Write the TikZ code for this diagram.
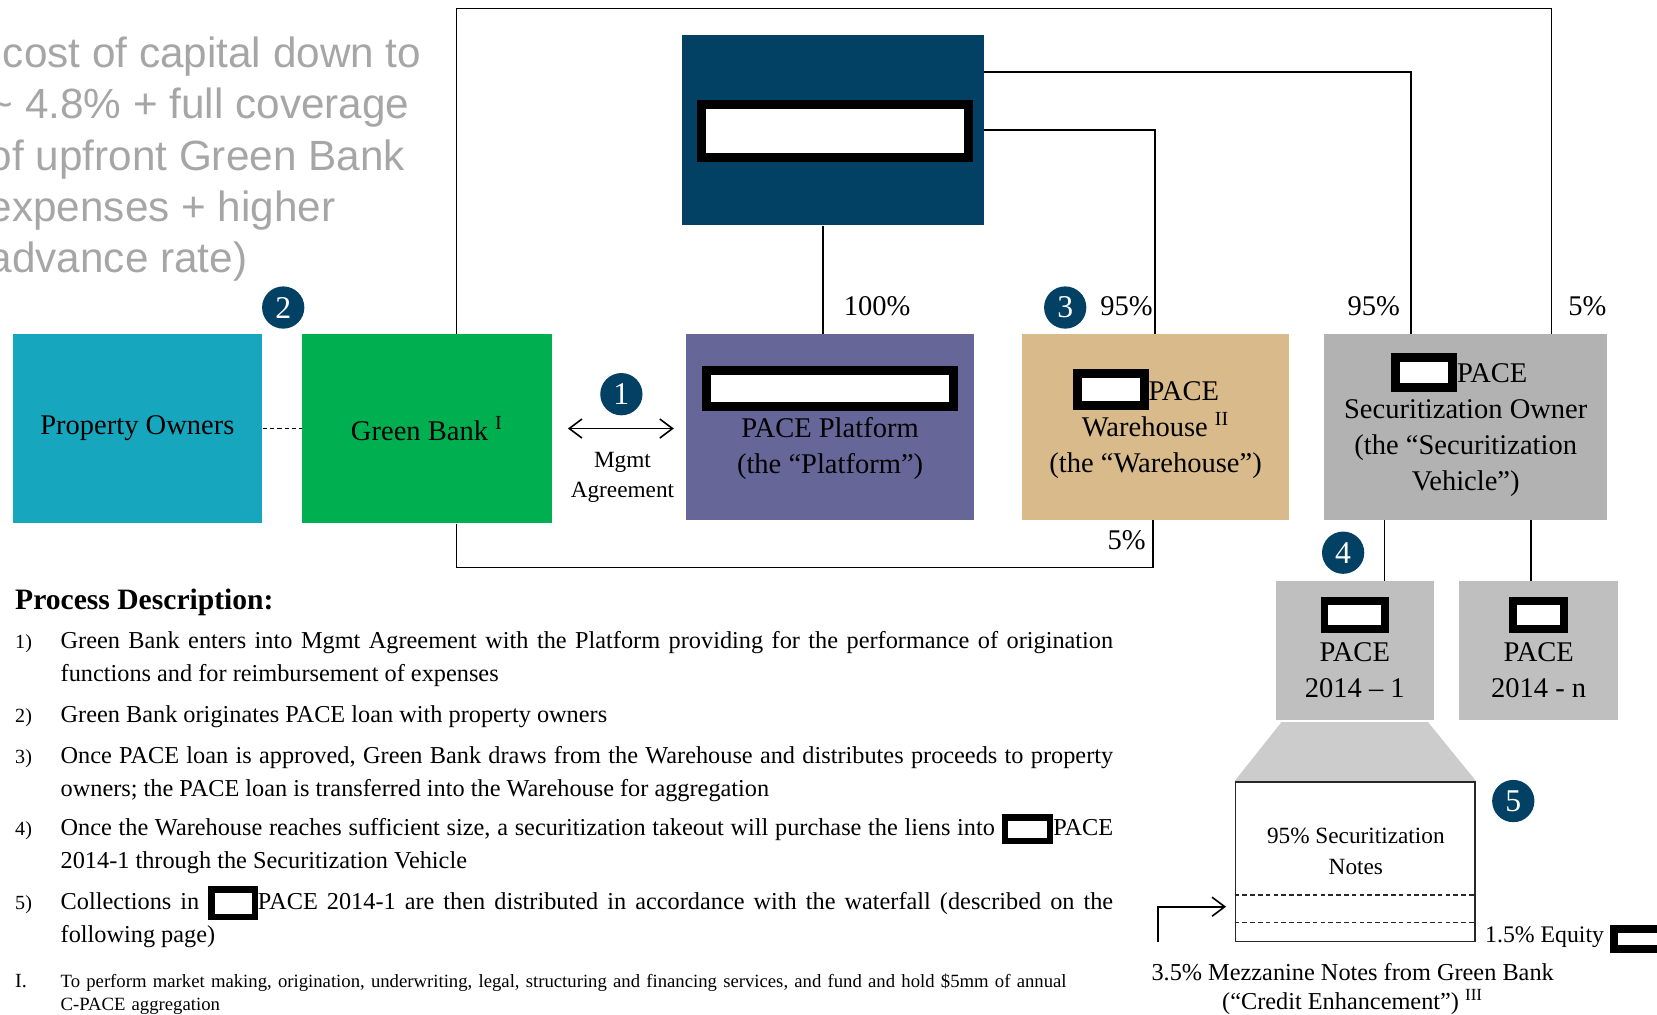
\documentclass[tikz,border=0pt]{standalone}
\usepackage{fontspec}
\setmainfont{Liberation Serif}
\newfontfamily\slidefont{Liberation Sans}
\usetikzlibrary{arrows.meta,backgrounds}

\definecolor{navy}{RGB}{3,65,100}
\definecolor{ownerteal}{RGB}{22,167,191}
\definecolor{bankgreen}{RGB}{0,176,80}
\definecolor{platpurple}{RGB}{102,102,153}
\definecolor{housetan}{RGB}{217,186,138}
\definecolor{vehiclegrey}{RGB}{178,178,178}
\definecolor{dealgrey}{RGB}{191,191,191}
\definecolor{funnelgrey}{RGB}{204,204,204}
\definecolor{slidegrey}{RGB}{166,166,166}
\definecolor{frameline}{RGB}{40,40,40}

% white box with a heavy black frame (redacted names)
\newcommand{\blackout}[3][4.25pt]{{\setlength{\fboxsep}{0pt}\setlength{\fboxrule}{#1}\fcolorbox{black}{white}{\rule{#2}{0pt}\rule{0pt}{#3}}}}

\tikzset{
  entity/.style={rectangle, minimum width=118pt, minimum height=89.5pt, inner sep=0pt,
                 align=center, text=black, font=\fontsize{13.5}{17}\selectfont},
  boxtext/.style={inner sep=0pt, align=center, text=black, font=\fontsize{13.5}{17}\selectfont},
  badge/.style={circle, fill=navy, text=white, inner sep=0pt, minimum size=20pt,
                font=\fontsize{15}{15}\selectfont},
  mask/.style={draw=black, fill=white, line width=4.25pt, inner sep=0pt},
  link/.style={draw=black, line width=0.75pt},
  pct/.style={inner sep=0pt, font=\fontsize{13.5}{17}\selectfont},
  itemno/.style={anchor=mid west, inner sep=0pt, font=\fontsize{9.5}{11}\selectfont},
  itemtext/.style={anchor=mid west, inner sep=0pt, text width=498pt, align=justify,
                   font=\fontsize{11.5}{15.75}\selectfont},
  notedash/.style={frameline, line width=0.7pt, dash pattern=on 2.2pt off 1.5pt}
}

\begin{document}
\begin{tikzpicture}[x=0.5pt,y=-0.5pt]
  \clip (0,0) rectangle (1568,960);

  % slide text running in from the left
  \foreach \t [count=\i] in {{\hphantom{(}cost of capital down to},{\textasciitilde{} 4.8\% + full coverage},
      {of upfront Green Bank},{expenses + higher},{advance rate)}}
    \node[anchor=base west, inner sep=0pt, text=slidegrey, font=\slidefont\fontsize{20}{24}\selectfont]
      (g\i) at (-11,15.5+48.5*\i) {\t};

  \node[entity, fill=navy, minimum width=143pt, minimum height=90pt] (parent) at (788,123) {};
  \node[mask, minimum width=126.25pt, minimum height=24.75pt] (parentmask) at (790.5,124) {};

  \node[entity, fill=ownerteal] (owners) at (130,405.5) {Property Owners};
  \node[entity, fill=bankgreen] (bank) at (404,405.5) {Green Bank \textsuperscript{I}};
  \node[entity, fill=platpurple, minimum width=136.5pt, minimum height=88pt] (platform) at (785.5,404) {};
  \node[boxtext] (platformtxt) at ([yshift=2pt]platform.center)
    {\blackout[4.5pt]{112.5pt}{12.5pt}\\PACE Platform\\(the “Platform”)};
  \node[entity, fill=housetan, minimum width=126.5pt, minimum height=88pt] (warehouse) at (1093.5,404) {};
  \node[boxtext] (warehousetxt) at ([yshift=1.5pt]warehouse.center)
    {\blackout{27.25pt}{10.75pt}PACE\hspace*{9pt}\\Warehouse \textsuperscript{II}\\(the “Warehouse”)};
  \node[entity, fill=vehiclegrey, minimum width=134pt, minimum height=88pt] (vehicle) at (1387,404) {};
  \node[boxtext] (vehicletxt) at ([yshift=1pt]vehicle.center)
    {\blackout{22.5pt}{9.75pt}PACE\hspace*{6pt}\\Securitization Owner\\(the “Securitization\\Vehicle”)};

  \node[entity, fill=dealgrey, minimum width=75pt, minimum height=65.5pt] (deal1) at (1282,615.5) {};
  \node[boxtext] (deal1txt) at ([yshift=1.5pt]deal1.center) {\blackout[3.7pt]{25pt}{9.8pt}\\PACE\\2014 -- 1};
  \node[entity, fill=dealgrey, minimum width=75pt, minimum height=65.5pt] (dealn) at (1456,615.5) {};
  \node[boxtext] (dealntxt) at ([yshift=1.5pt]dealn.center) {\blackout[3.7pt]{20.6pt}{9.8pt}\\PACE\\2014 - n};

  \node[draw=frameline, line width=0.8pt, minimum width=113.5pt, minimum height=75.5pt, inner sep=0pt]
    (notes) at (1282.5,815.5) {};
  \begin{scope}[on background layer]
    \fill[funnelgrey] ([xshift=3pt,yshift=-1pt]deal1.south west) -- ([xshift=-3pt,yshift=-1pt]deal1.south east)
      -- (notes.north east) -- (notes.north west) -- cycle;
  \end{scope}
  \node[align=center, inner sep=0pt, font=\fontsize{11}{14.5}\selectfont] (notestxt) at (1283,805.5)
    {95\% Securitization\\Notes};
  \draw[notedash] (notes.west |- 0,847) -- (notes.east |- 0,847);
  \draw[notedash] (notes.west |- 0,873) -- (notes.east |- 0,873);

  % ownership lines
  \draw[link] (bank.north -| 432,0) |- (1468,8) -- (vehicle.north -| 1468,0);
  \draw[link] (parent.east |- 0,68) -| (vehicle.north -| 1335,0);
  \draw[link] (parent.east |- 0,123) -| (warehouse.north -| 1093,0);
  \draw[link] (parent.south -| 779,0) -- (platform.north -| 779,0);
  \draw[link] (bank.south -| 432,0) |- (1091,537) -- (warehouse.south -| 1091,0);
  \draw[link] (vehicle.south -| 1310,0) -- (deal1.north -| 1310,0);
  \draw[link] (vehicle.south -| 1449,0) -- (dealn.north -| 1449,0);
  \draw[link, dash pattern=on 2pt off 1.5pt] (owners.east) -- (bank.west);
  \draw[link, {Straight Barb[length=6pt,width=9pt]}-{Straight Barb[length=6pt,width=9pt]},
        shorten <=7.5pt, shorten >=5.5pt] (bank.east) -- (bank.east -| platform.west);

  \node[pct] (p100) at (830,290) {100\%};
  \node[pct] (p95w) at (1066,290) {95\%};
  \node[pct] (p95v) at (1300,290) {95\%};
  \node[pct] (p5v) at (1502,290) {5\%};
  \node[pct] (p5w) at (1066,511) {5\%};
  \node[align=center, inner sep=0pt, font=\fontsize{11}{14}\selectfont] (mgmt) at (589,452) {Mgmt\\Agreement};

  \foreach \n/\p in {1/{588,373},2/{268,291},3/{1008,291},4/{1271,523},5/{1432,758}}
    \node[badge] (b\n) at (\p) {\n};

  % credit enhancement and equity
  \coordinate (mezz) at (1096,891);
  \draw[link, -{Straight Barb[length=6pt,width=9pt]}, shorten >=4pt] (mezz) |- (notes.west |- 0,858);
  \node[anchor=base west, inner sep=0pt, font=\fontsize{11.25}{14}\selectfont] (equity) at (1405,892)
    {1.5\% Equity \raisebox{-1pt}{\blackout[4pt]{40pt}{5.5pt}}};
  \node[anchor=north, align=center, inner sep=0pt, font=\fontsize{11.5}{14}\selectfont] (mezztxt) at (1280,911)
    {3.5\% Mezzanine Notes from Green Bank\\(“Credit Enhancement”) \textsuperscript{III}};

  % process description
  \node[anchor=base west, inner sep=0pt, font=\fontsize{14}{14}\selectfont\bfseries] (heading) at (14,577)
    {Process Description:};
  \foreach \n/\y in {1/609,2/679,3/718,4/786,5/856}
    \node[itemno] (n\n) at (14,\y) {\n)};
  \node[itemtext] (item1) at (57,609) {Green Bank enters into Mgmt Agreement with the Platform providing
    for the performance of origination\linebreak functions and for reimbursement of expenses};
  \node[itemtext] (item2) at (57,679) {Green Bank originates PACE loan with property owners};
  \node[itemtext] (item3) at (57,718) {Once PACE loan is approved, Green Bank draws from the Warehouse and
    distributes proceeds to property\linebreak owners; the PACE loan is transferred into the Warehouse for aggregation};
  \node[itemtext] (item4) at (57,786) {Once the Warehouse reaches sufficient size, a securitization takeout will
    purchase the liens into \raisebox{-1.25pt}{\blackout[3pt]{18.5pt}{8.25pt}}PACE\linebreak 2014-1 through the Securitization Vehicle};
  \node[itemtext] (item5) at (57,856) {Collections in \raisebox{-2pt}{\blackout[3pt]{17.5pt}{10pt}}PACE 2014-1 are then
    distributed in accordance with the waterfall (described on the\linebreak following page)};

  \node[itemno] (fnno) at (14,930) {I.};
  \node[itemtext, align=left, font=\fontsize{8.85}{11}\selectfont] (fn) at (57,930) {To perform market making,
    origination, underwriting, legal, structuring and financing services, and fund and hold \$5mm of annual\\
    C-PACE aggregation};
\end{tikzpicture}
\end{document}
